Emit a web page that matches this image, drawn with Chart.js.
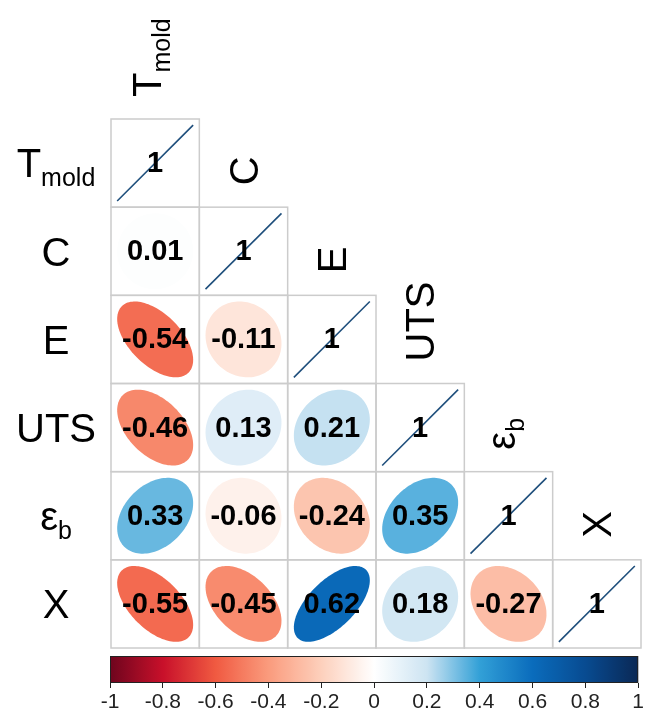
<!DOCTYPE html>
<html>
<head>
<meta charset="utf-8">
<script src="https://cdn.jsdelivr.net/npm/chart.js@4"></script>
<style>
  body { margin: 0; background: #fff; }
  canvas { display: block; }
</style>
</head>
<body>
<canvas id="corr" width="646" height="650"></canvas>
<canvas id="cbar" width="646" height="64"></canvas>
<script>
// ---- data (lower triangle, row by row) ----
const labelMain = ["T", "C", "E", "UTS", "\u03b5", "\u03a7"];
const labelSub = ["mold", "", "", "", "b", ""];

const rowTmold = [1];
const rowC = [0.01, 1];
const rowE = [-0.54, -0.11, 1];
const rowUTS = [-0.46, 0.13, 0.21, 1];
const rowEps = [0.33, -0.06, -0.24, 0.35, 1];
const rowChi = [-0.55, -0.45, 0.62, 0.18, -0.27, 1];
const corrRows = [rowTmold, rowC, rowE, rowUTS, rowEps, rowChi];

const cbTicks = [-1, -0.8, -0.6, -0.4, -0.2, 0, 0.2, 0.4, 0.6, 0.8, 1];

// colour map stops (value -> rgb)
const cmapVals = [-1, -0.8, -0.6, -0.4, -0.2, 0, 0.2, 0.4, 0.6, 0.8, 1];
const cmapCols = [
  [110, 5, 30], [200, 16, 42], [240, 90, 65], [250, 155, 125], [253, 208, 188],
  [255, 255, 255], [205, 228, 242], [50, 160, 215], [10, 108, 188], [8, 75, 145], [10, 40, 85]
];

function cmap(v) {
  for (let i = 0; i < cmapVals.length - 1; i++) {
    if (v <= cmapVals[i + 1]) {
      const t = (v - cmapVals[i]) / (cmapVals[i + 1] - cmapVals[i]);
      const a = cmapCols[i], b = cmapCols[i + 1];
      const c = a.map((x, k) => Math.round(x + (b[k] - x) * t));
      return `rgb(${c[0]},${c[1]},${c[2]})`;
    }
  }
  const c = cmapCols[cmapCols.length - 1];
  return `rgb(${c[0]},${c[1]},${c[2]})`;
}

const points = [];
corrRows.forEach((row, i) => {
  row.forEach((r, j) => points.push({ x: j + 0.5, y: i + 0.5, r: r }));
});

const N = labelMain.length;
const FONT = '"Liberation Sans", Arial, sans-serif';

// ---- main matrix plugin ----
const matrixPlugin = {
  id: "matrix",
  afterDatasetsDraw(chart) {
    const ctx = chart.ctx;
    const xs = chart.scales.x, ys = chart.scales.y;
    const cw = xs.getPixelForValue(1) - xs.getPixelForValue(0);
    const ch = ys.getPixelForValue(1) - ys.getPixelForValue(0);
    const s = 0.43;
    ctx.save();

    // grid cells
    ctx.strokeStyle = "#cccccc";
    ctx.lineWidth = 1.5;
    for (let i = 0; i < N; i++) {
      for (let j = 0; j <= i; j++) {
        const x0 = xs.getPixelForValue(j), y0 = ys.getPixelForValue(i);
        ctx.strokeRect(x0, y0, cw, ch);
      }
    }

    // ellipses + numbers
    const meta = chart.getDatasetMeta(0);
    meta.data.forEach((el, k) => {
      const r = points[k].r;
      const cx = el.x, cy = el.y;
      if (r >= 1) {
        ctx.strokeStyle = "#1f4f7c";
        ctx.lineWidth = 1.6;
        ctx.beginPath();
        ctx.moveTo(cx - s * cw, cy + s * ch);
        ctx.lineTo(cx + s * cw, cy - s * ch);
        ctx.stroke();
      } else {
        const d = Math.acos(r);
        ctx.fillStyle = cmap(r);
        ctx.beginPath();
        for (let t = 0; t <= 120; t++) {
          const a = (t / 120) * Math.PI * 2;
          const px = cx + s * cw * Math.cos(a + d / 2);
          const py = cy - s * ch * Math.cos(a - d / 2);
          if (t === 0) ctx.moveTo(px, py); else ctx.lineTo(px, py);
        }
        ctx.closePath();
        ctx.fill();
      }
      ctx.fillStyle = "#000";
      ctx.font = "bold 29px " + FONT;
      ctx.textAlign = "center";
      ctx.textBaseline = "middle";
      ctx.fillText(r >= 1 ? "1" : r.toFixed(2), cx, cy + 1);
    });

    // labels
    const F = 40, SF = 25, capH = 0.716 * F, subOff = 9;
    ctx.fillStyle = "#000";
    ctx.textBaseline = "alphabetic";
    ctx.textAlign = "left";
    for (let i = 0; i < N; i++) {
      const main = labelMain[i], sub = labelSub[i];
      ctx.font = F + "px " + FONT;
      const mw = ctx.measureText(main).width;
      ctx.font = SF + "px " + FONT;
      const sw = sub ? ctx.measureText(sub).width : 0;

      // row label (left), centered at x=55
      const rc = ys.getPixelForValue(i + 0.5);
      const bx = 56 - (mw + sw) / 2, by = rc + capH / 2;
      ctx.font = F + "px " + FONT;
      ctx.fillText(main, bx, by);
      if (sub) { ctx.font = SF + "px " + FONT; ctx.fillText(sub, bx + mw, by + subOff); }

      // column label (rotated, above diagonal cell)
      const cc = xs.getPixelForValue(i + 0.5);
      const startY = ys.getPixelForValue(i) - 22;
      const baseX = cc + capH / 2 - (sub ? 8 : 0);
      ctx.save();
      ctx.translate(baseX, startY);
      ctx.rotate(-Math.PI / 2);
      ctx.font = F + "px " + FONT;
      ctx.fillText(main, 0, 0);
      if (sub) { ctx.font = SF + "px " + FONT; ctx.fillText(sub, mw, subOff); }
      ctx.restore();
    }
    ctx.restore();
  }
};

new Chart(document.getElementById("corr"), {
  type: "scatter",
  data: {
    datasets: [{ data: points, pointRadius: 0, pointHoverRadius: 0 }]
  },
  options: {
    responsive: false,
    animation: false,
    devicePixelRatio: 1,
    layout: { padding: { left: 111, top: 119, right: 5, bottom: 2 } },
    plugins: { legend: { display: false }, tooltip: { enabled: false } },
    scales: {
      x: { type: "linear", min: 0, max: N, display: false },
      y: { type: "linear", min: 0, max: N, reverse: true, display: false }
    }
  },
  plugins: [matrixPlugin]
});

// ---- colour bar ----
const gradientPlugin = {
  id: "gradbar",
  beforeDatasetsDraw(chart) {
    const { ctx, chartArea: a } = chart;
    const xs = chart.scales.x;
    const g = ctx.createLinearGradient(xs.getPixelForValue(-1), 0, xs.getPixelForValue(1), 0);
    for (let k = 0; k <= 100; k++) {
      const v = -1 + k * 0.02;
      g.addColorStop(k / 100, cmap(v));
    }
    ctx.save();
    ctx.fillStyle = g;
    ctx.fillRect(a.left, a.top, a.right - a.left, a.bottom - a.top);
    ctx.strokeStyle = "#222";
    ctx.lineWidth = 1;
    ctx.strokeRect(a.left + 0.5, a.top + 0.5, a.right - a.left - 1, a.bottom - a.top - 1);
    ctx.restore();
  }
};

new Chart(document.getElementById("cbar"), {
  type: "scatter",
  data: { datasets: [{ data: [], pointRadius: 0 }] },
  options: {
    responsive: false,
    animation: false,
    devicePixelRatio: 1,
    layout: { padding: { left: 110, top: 6, right: 6, bottom: 4 } },
    plugins: { legend: { display: false }, tooltip: { enabled: false } },
    scales: {
      x: {
        type: "linear", min: -1, max: 1,
        afterBuildTicks: (scale) => { scale.ticks = cbTicks.map(v => ({ value: v })); },
        ticks: {
          callback: (v) => String(+v.toFixed(1)),
          color: "#222",
          font: { family: FONT, size: 21 },
          padding: 2,
          maxRotation: 0,
          autoSkip: false
        },
        grid: { drawOnChartArea: false, color: "#222", tickLength: 5 },
        border: { display: false }
      },
      y: { min: 0, max: 1, display: false }
    }
  },
  plugins: [gradientPlugin]
});
</script>
</body>
</html>
